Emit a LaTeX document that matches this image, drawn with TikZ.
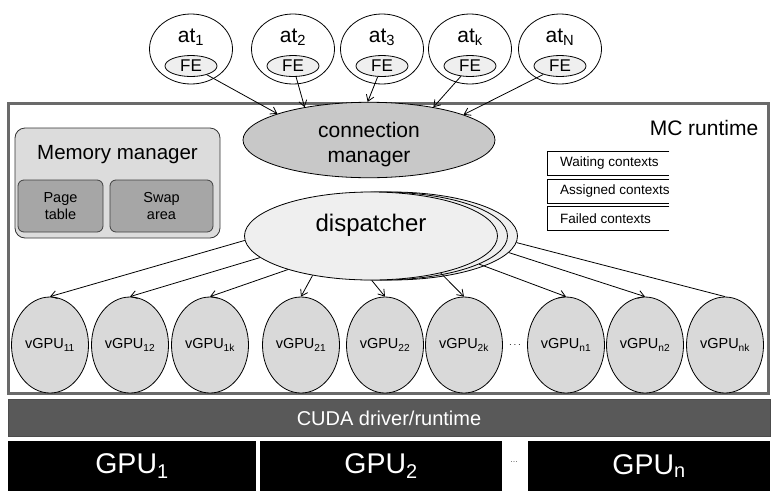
\documentclass[tikz,border=0pt]{standalone}
\usepackage{fontspec}
\setmainfont{Liberation Sans}
\usetikzlibrary{shapes.geometric,arrows.meta}
\definecolor{rtborder}{HTML}{6A6A6A}
\definecolor{connfill}{HTML}{C8C8C8}
\definecolor{dispfill}{HTML}{EFEFEF}
\definecolor{vgpufill}{HTML}{D9D9D9}
\definecolor{memfill}{HTML}{DCDCDC}
\definecolor{pagefill}{HTML}{A6A6A6}
\definecolor{cudafill}{HTML}{595959}

\begin{document}
\begin{tikzpicture}[x=1pt,y=-1pt,line width=0.8pt,
  atnode/.style={ellipse,draw,minimum width=83pt,minimum height=70pt,inner sep=0pt},
  attext/.style={font=\fontsize{21}{21}\selectfont},
  fenode/.style={ellipse,draw,fill=dispfill,minimum width=52pt,minimum height=21pt,inner sep=0pt,font=\fontsize{17}{17}\selectfont},
  vgpu/.style={ellipse,draw,fill=vgpufill,minimum width=77pt,minimum height=96pt,inner sep=0pt,font=\fontsize{14.5}{14.5}\selectfont},
  dispnode/.style={ellipse,draw,fill=dispfill,minimum width=253pt,minimum height=88pt,inner sep=0pt},
  memsub/.style={draw=black!75,fill=pagefill,rounded corners=6pt,minimum height=52pt,inner sep=0pt,align=center,font=\fontsize{14.5}{17}\selectfont},
  ctxbox/.style={minimum width=121pt,minimum height=23pt,inner sep=0pt,font=\fontsize{13.5}{13.5}\selectfont},
  gpubox/.style={fill=black,text=white,minimum height=50pt,inner sep=0pt,font=\fontsize{28.5}{28.5}\selectfont},
  arr/.style={-{Straight Barb[length=6pt,width=8pt]}}
]
\useasboundingbox (0,0) rectangle (784,496);

\node[draw=rtborder,line width=3pt,minimum width=760pt,minimum height=290pt,inner sep=0pt] (mcrt) at (388,248) {};
\node[anchor=east,font=\fontsize{21}{21}\selectfont] (mclabel) at (762,128) {MC runtime};

\node[ellipse,draw,fill=connfill,minimum width=252pt,minimum height=65pt,inner sep=0pt,align=center,font=\fontsize{21}{25}\selectfont] (conn) at (369,140) {\rule{0pt}{24pt}connection\\manager};

\foreach \i/\x/\s/\a in {1/191/1/164,2/293/2/153,3/382/3/92,4/470/k/27,5/560/N/15}{
  \node[atnode] (at\i) at (\x,49) {};
  \node[attext] (att\i) at (\x,37) {at\textsubscript{\s}};
  \node[fenode] (fe\i) at (\x,66) {FE};
  \draw[arr] (fe\i) -- (conn.\a);
}

\node[draw=black!80,fill=memfill,rounded corners=10pt,minimum width=205pt,minimum height=110pt,inner sep=0pt] (mem) at (117.5,183) {};
\node[font=\fontsize{20.5}{20.5}\selectfont] (memtitle) at (117.5,155) {Memory manager};
\node[memsub,minimum width=85pt] (page) at (60.5,206) {Page\\table};
\node[memsub,minimum width=103pt] (swap) at (161.5,206) {Swap\\area};

\foreach \n/\y/\t in {wait/163.5/Waiting contexts,assign/191/Assigned contexts,fail/218.5/Failed contexts}{
  \node[ctxbox] (\n) at (608.5,\y) {\hspace{8pt}\makebox[105pt][l]{\t}\hspace{8pt}};
  \draw (\n.north east) -- (\n.north west) -- (\n.south west) -- (\n.south east);
}

\node[dispnode] (disp3) at (391,236) {};
\node[dispnode] (disp2) at (381,236) {};
\node[dispnode,font=\fontsize{24}{24}\selectfont,text depth=26pt] (disp) at (371,236) {dispatcher};

\foreach \n/\x/\s in {v11/50/11,v12/130/12,v1k/210/1k,v21/301/21,v22/385/22,v2k/464/2k,vn1/566/n1,vn2/645/n2,vnk/725/nk}{
  \node[vgpu] (\n) at (\x,345) {vGPU\textsubscript{\s}};
}
\node (vdots) at (515,345) {$\cdots$};

\foreach \n/\a in {v11/182,v12/191,v1k/202,v21/214,v22/271,v2k/332}{
  \draw[arr] (disp.\a) -- (\n.north);
}
\draw[arr] (disp2.344) -- (vn1.north);
\draw[arr] (disp3.352) -- (vn2.north);
\draw (disp3.357) -- (vnk.north);

\node[fill=cudafill,draw=black!70,text=white,minimum width=762pt,minimum height=37pt,inner sep=0pt,font=\fontsize{20}{20}\selectfont] (cuda) at (389,418) {CUDA driver/runtime};

\node[gpubox,minimum width=248pt] (gpu1) at (132,466) {GPU\textsubscript{1}};
\node[gpubox,minimum width=242pt] (gpu2) at (381,466) {GPU\textsubscript{2}};
\node[font=\fontsize{9}{9}\selectfont,text=black!60] (gdots) at (514,462) {...};
\node[gpubox,minimum width=242pt] (gpun) at (649,466) {GPU\textsubscript{n}};
\end{tikzpicture}
\end{document}
